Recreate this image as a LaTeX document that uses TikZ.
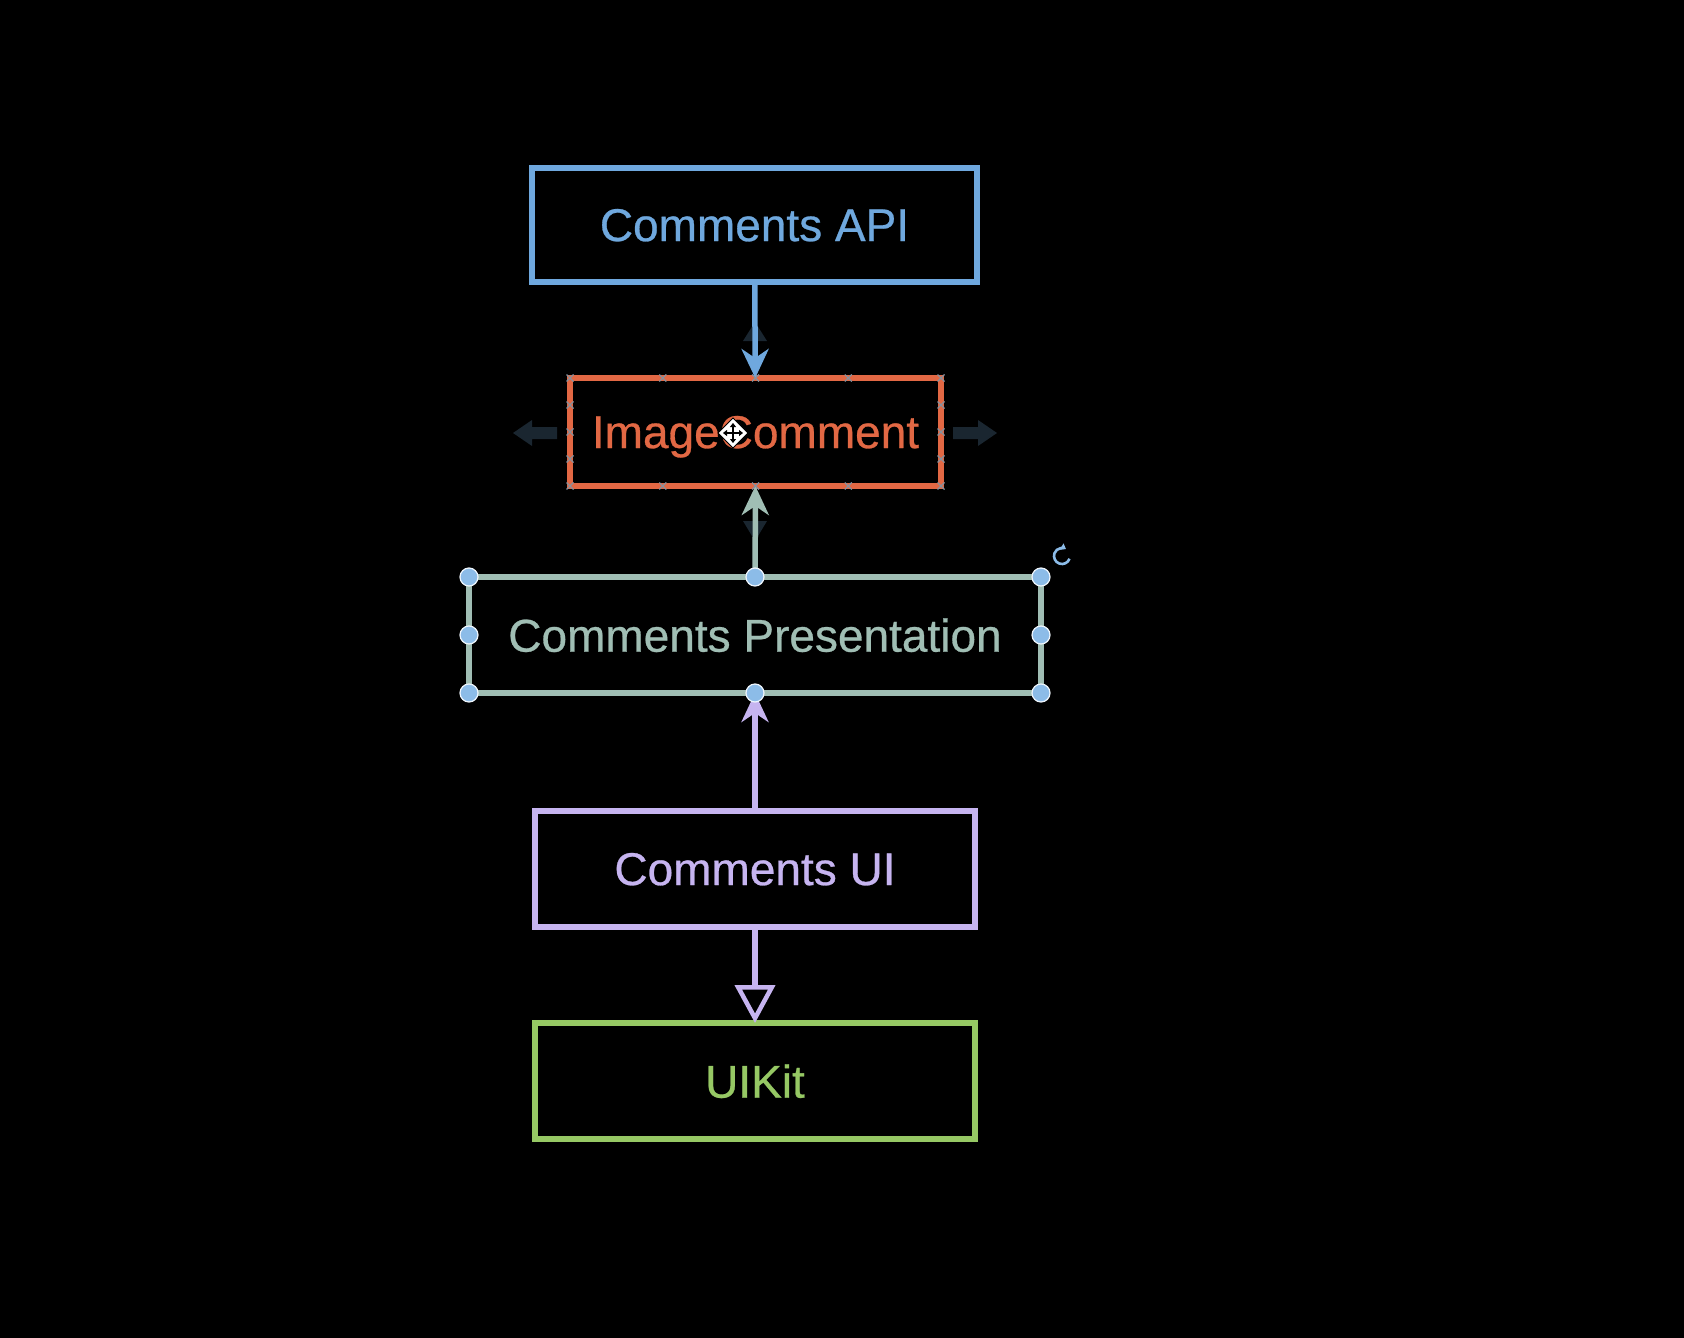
\documentclass[tikz,border=0pt]{standalone}
\usepackage{fontspec}
\setmainfont{Liberation Sans}[FakeBold=0.6]
\usetikzlibrary{arrows.meta}
\definecolor{apiblue}{RGB}{111,168,222}
\definecolor{imgred}{RGB}{226,104,68}
\definecolor{presgrey}{RGB}{160,190,180}
\definecolor{uililac}{RGB}{198,180,240}
\definecolor{kitgreen}{RGB}{150,200,100}
\definecolor{ghost}{RGB}{26,38,48}
\definecolor{handleblue}{RGB}{140,188,232}
\definecolor{pingrey}{RGB}{135,145,158}
\tikzset{
  layer/.style={draw=#1, text=#1, rectangle, line width=5.5pt, outer sep=0pt,
    inner sep=0pt, text depth=0pt, font=\fontsize{46}{55}\selectfont},
  uses/.style={draw=#1, line width=5.5pt, -{Stealth[length=29pt, width=27pt, inset=9pt]}},
  inherits/.style={draw=#1, line width=5.5pt, -{Triangle[open, length=38pt, width=40pt, line width=4.5pt]}},
  pin/.style={draw=pingrey, line width=1.3pt},
  handle/.style={fill=handleblue, draw=white!85!handleblue, line width=1.2pt}
}
\begin{document}
\begin{tikzpicture}[x=1pt, y=-1pt]
  \fill[black] (0,0) rectangle (1684,1338);
  \useasboundingbox (0,0) rectangle (1684,1338);
  % hover arrows
  \fill[ghost] (743,341) -- (755,322) -- (767,341) -- cycle;
  \fill[ghost] (743,521) -- (755,541) -- (767,521) -- cycle;
  \fill[ghost] (557,427) -- (532,427) -- (532,420) -- (513,433) -- (532,446) -- (532,439) -- (557,439) -- cycle;
  \fill[ghost] (953,427) -- (978,427) -- (978,420) -- (997,433) -- (978,446) -- (978,439) -- (953,439) -- cycle;
  \node[layer=apiblue, minimum width=445pt, minimum height=114pt] (api) at (754.5,225) {Comments API};
  \node[layer=imgred, minimum width=371pt, minimum height=108pt] (img) at (755.5,432) {ImageComment};
  \node[layer=presgrey, minimum width=572pt, minimum height=116pt] (pres) at (755,635) {Comments Presentation};
  \node[layer=uililac, minimum width=440pt, minimum height=116pt] (ui) at (755,869) {Comments UI};
  \node[layer=kitgreen, minimum width=440pt, minimum height=116pt] (kit) at (755,1081) {UIKit};
  \begin{scope}
    \draw[uses=apiblue] (api) -- (img);
    \draw[uses=presgrey] (pres) -- (img);
    \draw[uses=uililac] (ui) -- (pres);
    \draw[inherits=uililac] (ui) -- (kit);
  \end{scope}
  % connection points
  \foreach \x in {570,662.75,755.5,848.25,941} {
    \draw[pin] (\x,378) +(-3.5,-3.5) -- +(3.5,3.5) +(-3.5,3.5) -- +(3.5,-3.5);
    \draw[pin] (\x,486) +(-3.5,-3.5) -- +(3.5,3.5) +(-3.5,3.5) -- +(3.5,-3.5);
  }
  \foreach \y in {405,432,459} {
    \draw[pin] (570,\y) +(-3.5,-3.5) -- +(3.5,3.5) +(-3.5,3.5) -- +(3.5,-3.5);
    \draw[pin] (941,\y) +(-3.5,-3.5) -- +(3.5,3.5) +(-3.5,3.5) -- +(3.5,-3.5);
  }
  % move cursor
  \filldraw[fill=white, draw=black, line width=1pt] (733,418) -- (748,433) -- (733,448) -- (718,433) -- cycle;
  \draw[black, line width=1.8pt, {Triangle[length=4pt, width=6pt]}-{Triangle[length=4pt, width=6pt]}] (723,433) -- (743,433);
  \draw[black, line width=1.8pt, {Triangle[length=4pt, width=6pt]}-{Triangle[length=4pt, width=6pt]}] (733,423) -- (733,443);
  % selection handles
  \foreach \p in {(469,577),(755,577),(1041,577),(469,635),(1041,635),(469,693),(755,693),(1041,693)}
    \filldraw[handle] \p circle[radius=9];
  \draw[handleblue, line width=2.6pt, -{Triangle[length=5pt, width=7pt]}] (1062,556) ++(20:8) arc[start angle=20, end angle=300, radius=8];
\end{tikzpicture}
\end{document}
